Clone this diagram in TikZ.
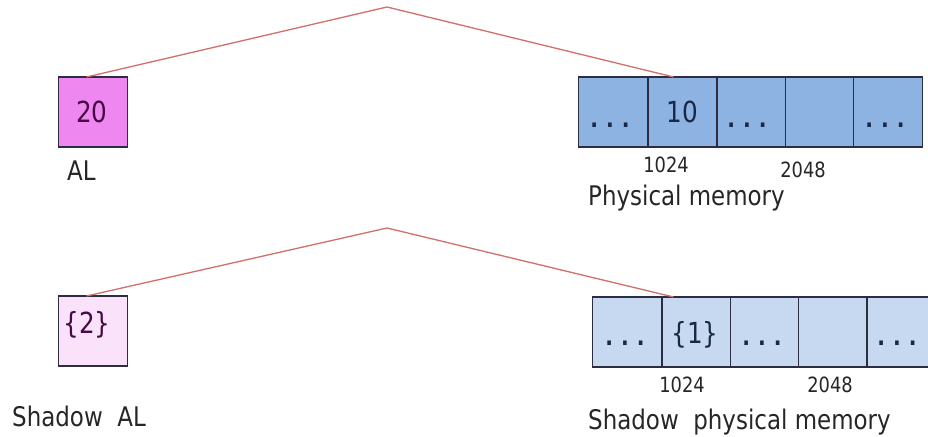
\documentclass[tikz,border=0pt]{standalone}
\usepackage{fontspec}
\setmainfont{DejaVu Sans}[FakeStretch=0.85]
\begin{document}
\begin{tikzpicture}[x=1pt,y=-1pt,
  cellbox/.style={draw=boxline,line width=1.1pt,minimum width=69pt,minimum height=70pt,inner sep=0pt,outer sep=0pt},
  reg/.style={cellbox,fill=#1},
  memcell/.style={cellbox,fill=#1},
  label/.style={inner sep=0pt,font=\fontsize{27}{31}\selectfont,text=black!85},
  addr/.style={inner sep=0pt,font=\fontsize{21}{25}\selectfont,text=black!85},
  val/.style={inner sep=0pt,font=\fontsize{29}{33}\selectfont,text=#1},
  dots/.style={inner sep=0pt,font=\fontsize{24}{28}\bfseries\selectfont,text=navyink},
  link/.style={draw=linkred,line width=1.3pt}]
\definecolor{boxline}{RGB}{45,45,65}
\definecolor{linkred}{RGB}{210,110,108}
\definecolor{regfill}{RGB}{238,136,240}
\definecolor{regshadow}{RGB}{249,226,250}
\definecolor{memfill}{RGB}{141,179,226}
\definecolor{memshadow}{RGB}{198,217,240}
\definecolor{navyink}{RGB}{25,40,70}
\definecolor{plumink}{RGB}{70,10,70}
\newcommand{\tripledot}{.\kern8pt.\kern8pt.}
\clip (0,0) rectangle (928,436);

% ---- AL register and physical memory ----
\node[reg=regfill] (al) at (93,112) {};
\node[val=plumink,anchor=base] (alval) at (92,122) {20};
\node[label,anchor=base west] (alname) at (67,180) {AL};

\node[memcell=memfill] (m1) at (613,112) {};
\node[memcell=memfill] (m2) at (682.5,112) {};
\node[memcell=memfill] (m3) at (751.5,112) {};
\node[memcell=memfill] (m4) at (820,112) {};
\node[memcell=memfill] (m5) at (888,112) {};
\node[dots,anchor=base] (d1) at (610,127) {\tripledot};
\node[val=navyink,anchor=base] (mval) at (682,122) {10};
\node[dots,anchor=base] (d3) at (747,127) {\tripledot};
\node[dots,anchor=base] (d5) at (885,127) {\tripledot};
\node[addr,anchor=base] (a1) at (666,172) {1024};
\node[addr,anchor=base] (a2) at (803,177) {2048};
\node[label,anchor=base west] (memname) at (588,205) {Physical memory};

\coordinate (top1) at (387,7);
\draw[link] ([xshift=28pt]al.north west) -- (top1) -- ([xshift=-9pt]m2.north);

% ---- shadow AL and shadow physical memory ----
\node[reg=regshadow] (sal) at (93,331) {};
\node[val=plumink,anchor=base] (salval) at (87,333) {\{2\}};
\node[label,anchor=base west] (salname) at (12,426) {Shadow\ \ AL};

\node[memcell=memshadow] (s1) at (627,332) {};
\node[memcell=memshadow] (s2) at (696.5,332) {};
\node[memcell=memshadow] (s3) at (765,332) {};
\node[memcell=memshadow] (s4) at (833,332) {};
\node[memcell=memshadow] (s5) at (901.5,332) {};
\node[dots,anchor=base] (e1) at (625,345) {\tripledot};
\node[val=navyink,anchor=base] (sval) at (695,343) {\{1\}};
\node[dots,anchor=base] (e3) at (762,345) {\tripledot};
\node[dots,anchor=base] (e5) at (897,345) {\tripledot};
\node[addr,anchor=base] (b1) at (682,392) {1024};
\node[addr,anchor=base] (b2) at (830,392) {2048};
\node[label,anchor=base west] (smemname) at (588,429) {Shadow\ \ physical memory};

\coordinate (top2) at (387,228);
\draw[link] ([xshift=28pt]sal.north west) -- (top2) -- ([xshift=-23pt]s2.north);
\end{tikzpicture}
\end{document}
